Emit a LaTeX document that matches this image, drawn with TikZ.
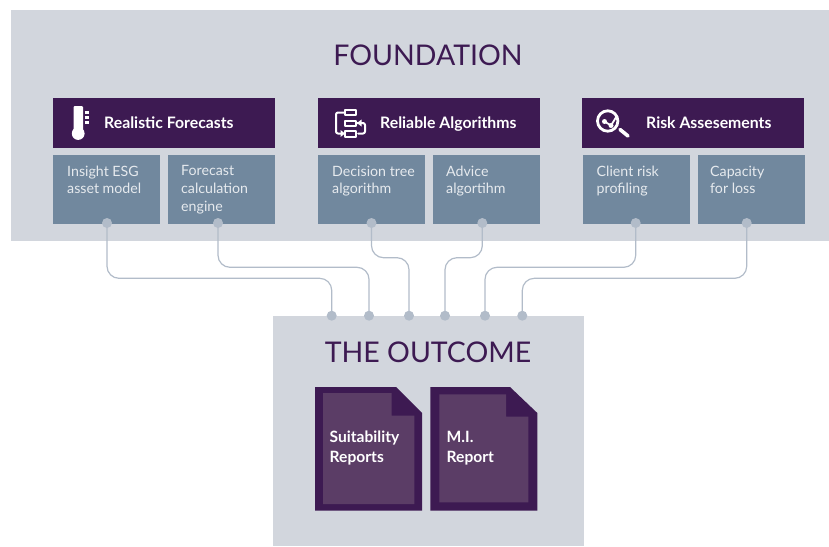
\documentclass[tikz,border=0pt]{standalone}
\usepackage{fontspec}
\setmainfont{Lato}
\usetikzlibrary{calc}
\definecolor{panel}{HTML}{D2D6DD}
\definecolor{plum}{HTML}{3D1A52}
\definecolor{slate}{HTML}{71889E}
\definecolor{wire}{HTML}{B2BCC9}
\definecolor{docin}{HTML}{5B3D66}
\definecolor{soft}{HTML}{E6EAEE}
\tikzset{
 x=1pt,y=-1pt,
 panelbox/.style={fill=panel,draw=none,anchor=north west,inner sep=0pt,outer sep=0pt},
 headbox/.style={fill=plum,draw=none,anchor=north west,inner sep=0pt,outer sep=0pt,minimum width=222pt,minimum height=50pt},
 subbox/.style={fill=slate,draw=none,anchor=north west,inner sep=0pt,outer sep=0pt,minimum width=107pt,minimum height=69pt},
 title/.style={text=plum,font=\fontsize{28.5}{32}\selectfont,inner sep=0pt},
 headtext/.style={text=white,font=\fontsize{15.8}{18}\selectfont\bfseries,anchor=base west,inner sep=0pt},
 subtext/.style={text=soft,font=\fontsize{14.2}{17.6}\selectfont,anchor=north west,align=left,inner sep=0pt},
 doctext/.style={text=white,font=\fontsize{15.6}{20}\selectfont\bfseries,anchor=north west,align=left,inner sep=0pt},
 pin/.style={circle,fill=wire,draw=none,minimum size=10pt,inner sep=0pt},
 wireline/.style={draw=wire,line width=1.2pt,rounded corners=12pt},
 iconline/.style={draw=white,line width=2pt,line cap=round,line join=round},
}
\begin{document}
\begin{tikzpicture}
\useasboundingbox (0,0) rectangle (829,546);
% panels
\node[panelbox,minimum width=818pt,minimum height=231pt] (found) at (11,10) {};
\node[panelbox,minimum width=311pt,minimum height=230pt] (outc) at (273,316) {};
\node[title] (foundt) at (428,55) {FOUNDATION};
\node[title] (outct) at (428,352) {THE OUTCOME};
% headers
\node[headbox] (h1) at (53,98) {};
\node[headbox] (h2) at (318,98) {};
\node[headbox] (h3) at (582,98) {};
\node[headtext] (h1t) at (104,128.5) {Realistic Forecasts};
\node[headtext] (h2t) at (380,128.5) {Reliable Algorithms};
\node[headtext] (h3t) at (646,128.5) {Risk Assesements};
% sub boxes
\node[subbox] (s1) at (53,155) {};
\node[subbox] (s2) at (168,155) {};
\node[subbox] (s3) at (318,155) {};
\node[subbox] (s4) at (433,155) {};
\node[subbox] (s5) at (583,155) {};
\node[subbox] (s6) at (698,155) {};
\node[subtext] (s1t) at (67,165.5) {Insight ESG\\asset model};
\node[subtext] (s2t) at (181,165.5) {Forecast\\calculation\\engine};
\node[subtext] (s3t) at (332,165.5) {Decision tree\\algorithm};
\node[subtext] (s4t) at (446,165.5) {Advice\\algortihm};
\node[subtext] (s5t) at (596.5,165.5) {Client risk\\profiling};
\node[subtext] (s6t) at (710,165.5) {Capacity\\for loss};
% thermometer icon
\fill[white,rounded corners=1pt] (73.5,106) rectangle (83,132);
\fill[white] (78.2,133.5) circle (6.4);
\draw[white,line width=2.2pt] (84.5,112.5) -- (89,112.5) (84.5,117.5) -- (89,117.5) (84.5,122.5) -- (89,122.5);
% algorithm icon
\draw[iconline] (345,110) rectangle (356,115);
\draw[iconline] (345,120.5) rectangle (356,126);
\draw[iconline] (345,131) rectangle (356,136.5);
\draw[iconline,rounded corners=2pt] (344,112.5) -- (336,112.5) -- (336,133.5) -- (343,133.5);
\draw[iconline,rounded corners=2pt] (357,123) -- (365,123) -- (365,133.5) -- (358,133.5);
\fill[white] (345,133.5) -- (340.5,130) -- (340.5,137) -- cycle;
\fill[white] (357,123) -- (361.5,119.5) -- (361.5,126.5) -- cycle;
% magnifier icon
\draw[iconline,line width=2.8pt] (607.7,121) circle (10.2);
\draw[iconline,line width=3.6pt] (620,129.5) -- (628,136);
\draw[iconline,line width=1.8pt] (604.5,121.5) -- (611,125.5) -- (616.5,116.5);
\fill[white] (604.5,121.5) circle (2.5) (611,125.5) circle (2.5);
% documents
\fill[plum] (315,387) -- (396,387) -- (422,413) -- (422,510.5) -- (315,510.5) -- cycle;
\fill[docin] (323,393) -- (391.7,393) -- (391.7,415.7) -- (414.3,415.7) -- (414.3,504) -- (323,504) -- cycle;
\fill[plum] (430.3,387) -- (510,387) -- (537.3,413) -- (537.3,510.5) -- (430.3,510.5) -- cycle;
\fill[docin] (439.3,394.3) -- (506,394.3) -- (506,416.7) -- (528.3,416.7) -- (528.3,502.3) -- (439.3,502.3) -- cycle;
\node[doctext] (d1t) at (329.5,431) {Suitability\\Reports};
\node[doctext] (d2t) at (446.5,431) {M.I.\\Report};
% connector pins
\node[pin] (t1) at (107,223) {};
\node[pin] (t2) at (218,223) {};
\node[pin] (t3) at (371.5,223) {};
\node[pin] (t4) at (482.3,223) {};
\node[pin] (t5) at (635.7,223) {};
\node[pin] (t6) at (746.7,223) {};
\node[pin] (b1) at (331.7,315.7) {};
\node[pin] (b2) at (369,315.7) {};
\node[pin] (b3) at (409,315.7) {};
\node[pin] (b4) at (445,315.7) {};
\node[pin] (b5) at (485,315.7) {};
\node[pin] (b6) at (522.3,315.7) {};
% connectors
\draw[wireline] (t1.center) |- (0,278.3 -| b1.center) -- (b1.center);
\draw[wireline] (t2.center) |- (0,267.3 -| b2.center) -- (b2.center);
\draw[wireline] (t3.center) |- (0,257.7 -| b3.center) -- (b3.center);
\draw[wireline] (t4.center) |- (0,257.7 -| b4.center) -- (b4.center);
\draw[wireline] (t5.center) |- (0,267.3 -| b5.center) -- (b5.center);
\draw[wireline] (t6.center) |- (0,278.3 -| b6.center) -- (b6.center);
\end{tikzpicture}
\end{document}
